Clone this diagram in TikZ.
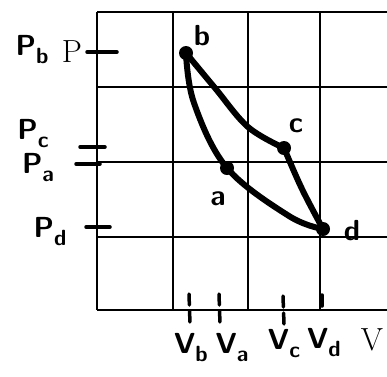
\documentclass[tikz,border=0pt]{standalone}
\usepackage{tikz}
\usetikzlibrary{calc}

% handwritten symbol with a lowered index
\newcommand{\hsub}[2]{#1\raisebox{-8pt}{\fontsize{22}{22}\selectfont #2}}

\begin{document}
\begin{tikzpicture}[
x=1pt, y=-1pt,
gridline/.style={draw=black, line width=1.8pt},
cycleline/.style={draw=black, line width=6pt, line cap=round, line join=round},
statedot/.style={circle, fill=black, inner sep=0pt, minimum size=14pt},
hand/.style={font=\sffamily\bfseries\fontsize{29}{29}\selectfont, inner sep=0pt},
axislabel/.style={font=\fontsize{32}{32}\selectfont, inner sep=0pt},
ptick/.style={draw=black, line width=3.5pt, line cap=round},
vtick/.style={draw=black, line width=3.5pt, dash pattern=on 11pt off 6pt, line cap=round}
]
\useasboundingbox (0,0) rectangle (387,376);

% Grid
\foreach \gx in {97,173,248,320} {
  \draw[gridline] (\gx,12) -- (\gx,310);
}
\foreach \gy in {12,87,162,237,310} {
  \draw[gridline] (97,\gy) -- (387,\gy);
}

% States
\coordinate (b) at (186,53);
\coordinate (a) at (227,168);
\coordinate (c) at (284,148);
\coordinate (d) at (323,229);
\coordinate (ba) at (194,103);
\coordinate (ad) at (289,216);
\coordinate (bc1) at (215,88);
\coordinate (bc2) at (248,127);
\coordinate (cd) at (302,189);

% Cycle: b -> a -> d (lower), b -> c -> d (upper)
\draw[cycleline] plot[smooth, tension=0.6] coordinates {(b) (ba) (a) (ad) (d)};
\draw[cycleline] plot[smooth, tension=0.6] coordinates {(b) (bc1) (bc2) (c)};
\draw[cycleline] plot[smooth, tension=0.6] coordinates {(c) (cd) (d)};

\node[statedot] (bdot) at (b) {};
\node[statedot] (adot) at (a) {};
\node[statedot] (cdot) at (c) {};
\node[statedot] (ddot) at (d) {};

\node[hand] (blabel) at (202,36) {b};
\node[hand] (alabel) at (218,199) {a};
\node[hand] (clabel) at (296,126) {c};
\node[hand] (dlabel) at (352,231) {d};

% Pressure axis
\node[axislabel] (paxis) at (72,52) {P};
\node[hand] (pb) at (32,50) {\hsub{P}{b}};
\node[hand] (pc) at (33,134) {\hsub{P}{c}};
\node[hand] (pa) at (38,168) {\hsub{P}{a}};
\node[hand] (pd) at (50,232) {\hsub{P}{d}};
\draw[ptick] (87,52) -- (117,52);
\draw[ptick] (80,147) -- (105,147);
\draw[ptick] (76,164) -- (100,164);
\draw[ptick] (86,227) -- (110,227);

% Volume axis
\node[axislabel] (vaxis) at (372,340) {V};
\node[hand] (vb) at (191,348) {\hsub{V}{b}};
\node[hand] (va) at (232,348) {\hsub{V}{a}};
\node[hand] (vc) at (284,344) {\hsub{V}{c}};
\node[hand] (vd) at (324,343) {\hsub{V}{d}};
\draw[vtick] (189,294) -- (190,324);
\draw[vtick] (219,294) -- (220,324);
\draw[vtick] (283,296) -- (284,324);
\draw[vtick] (322,295) -- (322,311);

\end{tikzpicture}
\end{document}
